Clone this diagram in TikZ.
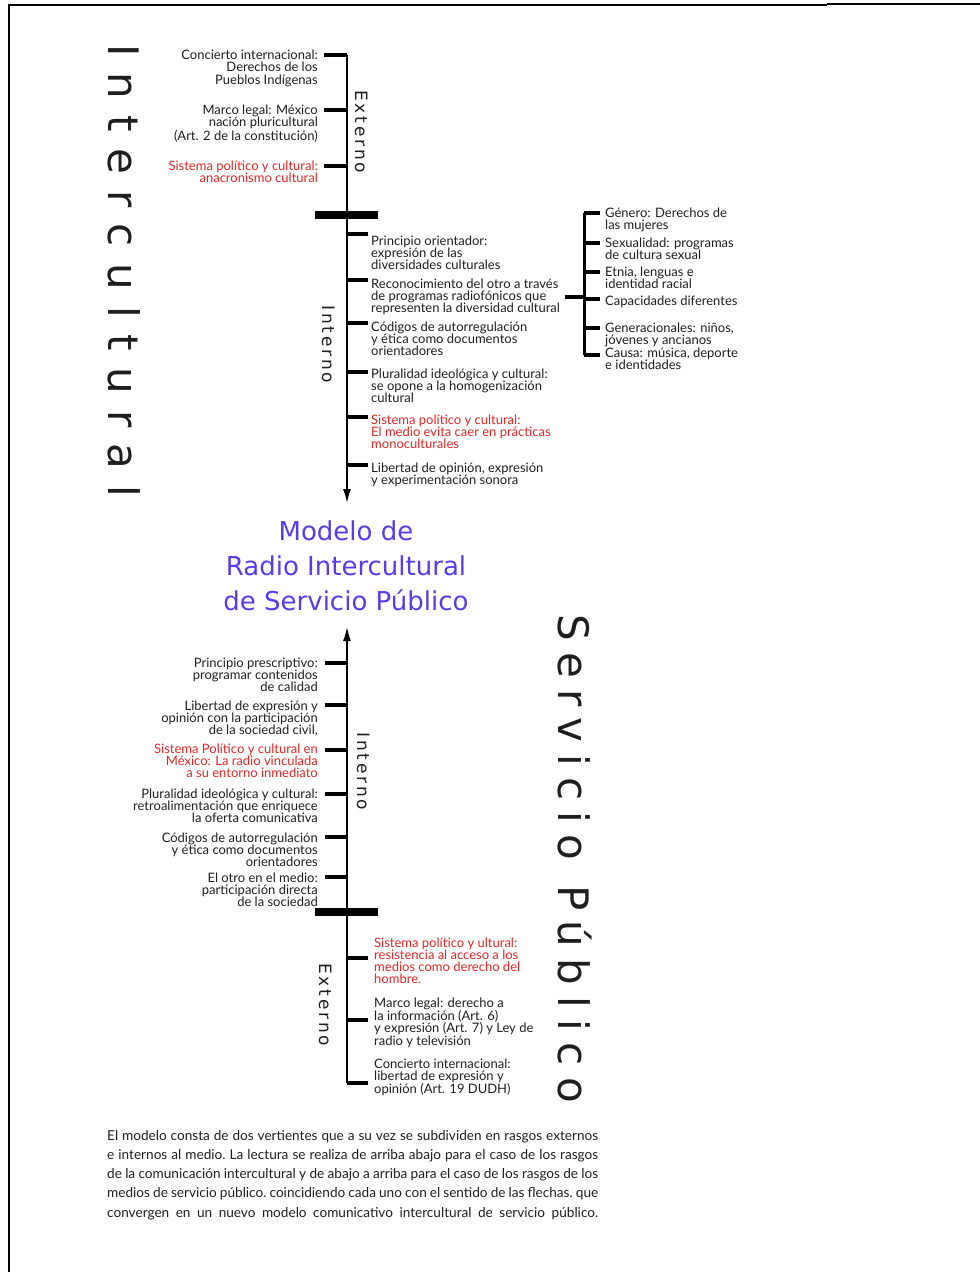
\documentclass[tikz,border=0pt]{standalone}
\usepackage{fontspec}
\setmainfont{Lato}
\newfontfamily\titlefont{DejaVu Sans}
\newfontfamily\intfont[LetterSpace=39]{DejaVu Sans}
\newfontfamily\servfont[LetterSpace=27]{DejaVu Sans}
\newfontfamily\sidefont[LetterSpace=17]{DejaVu Sans}
\usetikzlibrary{arrows.meta, positioning}
\definecolor{titleblue}{RGB}{88,60,235}
\definecolor{itemred}{RGB}{228,38,38}
\definecolor{itemgray}{RGB}{30,30,30}

\begin{document}
\begin{tikzpicture}[x=1pt,y=-1pt,>={Latex[length=14pt,width=8pt]}]
    \tikzstyle{item}=[inner sep=0pt, font=\fontsize{13}{12.2}\selectfont]
    \tikzstyle{left item}=[item, align=right, anchor=north east]
    \tikzstyle{right item}=[item, align=left, anchor=north west]
    \tikzstyle{tick}=[line width=3.5pt]
    \tikzstyle{axis}=[line width=1.6pt]
    \tikzstyle{bar}=[line width=8pt]
    \tikzstyle{side}=[rotate=-90, inner sep=0pt, anchor=base west, text=itemgray, font=\sidefont\fontsize{17}{17}\selectfont]
    \tikzstyle{big}=[rotate=-90, inner sep=0pt, anchor=base west, text=itemgray]

    \useasboundingbox (0,0) rectangle (980,1272);

    % Page frame
    \draw[line width=1.2pt] (9,1272) -- (9,5) -- (827,5);
    \draw[line width=2.5pt] (827,4) -- (980,4);

    % Big side titles
    \node[big, font=\intfont\fontsize{42}{42}\selectfont] (inter) at (108,44) {Intercultural};
    \node[big, font=\servfont\fontsize{42}{42}\selectfont] (serv) at (558,614) {Servicio Público};

    % Upper axis: read from top to bottom
    \coordinate (U-top) at (347,55);
    \coordinate (U-end) at (347,503);
    \coordinate (U-bar) at (347,215);
    \draw[axis,->] (U-top) -- (U-end);
    \draw[bar] ([xshift=-32pt]U-bar) -- ([xshift=31pt]U-bar);
    \node[side] (ext-u) at (355,90) {Externo};
    \node[side] (int-u) at (322,305) {Interno};

    % External features (upper axis)
    \foreach \name/\y/\col/\txt in {
        1/55/itemgray/{Concierto internacional:\\Derechos de los\\Pueblos Indígenas},
        2/110/itemgray/{Marco legal: México\\nación pluricultural\\(Art. 2 de la constitución)},
        3/166/itemred/{Sistema político y cultural:\\anacronismo cultural}} {
        \coordinate (UE-\name) at (347,\y);
        \draw[tick] (UE-\name) -- ++(-23,0);
        \node[left item, text=\col] (UEt-\name) at (318,\y-5) {\txt};
    }

    % Internal features (upper axis)
    \foreach \name/\y/\ty/\col/\txt in {
        1/234/240/itemgray/{Principio orientador:\\expresión de las\\diversidades culturales},
        2/280/283/itemgray/{Reconocimiento del otro a través\\de programas radiofónicos que\\representen la diversidad cultural},
        3/323/326/itemgray/{Códigos de autorregulación\\y ética como documentos\\orientadores},
        4/372/373/itemgray/{Pluralidad ideológica y cultural:\\se opone a la homogenización\\cultural},
        5/417/419/itemred/{Sistema político y cultural:\\El medio evita caer en prácticas\\monoculturales},
        6/465/467/itemgray/{Libertad de opinión, expresión\\y experimentación sonora}} {
        \coordinate (UI-\name) at (347,\y);
        \draw[tick] (UI-\name) -- ++(21,0);
        \node[right item, text=\col] (UIt-\name) at (371,\ty-4.5) {\txt};
    }

    % Bracket of the diversities
    \coordinate (brk-top) at (584,213);
    \coordinate (brk-bot) at (584,355);
    \coordinate (brk) at (584,296);
    \draw[tick] ([xshift=5pt]UIt-2.east) -- (UIt-2.east -| brk);
    \draw[line width=3pt] (brk-top) -- (brk-bot);
    \foreach \name/\y/\ty/\txt in {
        1/213/212/{Género: Derechos de\\las mujeres},
        2/243/242/{Sexualidad: programas\\de cultura sexual},
        3/272/271/{Etnia, lenguas e\\identidad racial},
        4/299/300/{Capacidades diferentes},
        5/328/327/{Generacionales: niños,\\jóvenes y ancianos},
        6/355/352/{Causa: música, deporte\\e identidades}} {
        \coordinate (D-\name) at (584,\y);
        \draw[tick] (D-\name) -- ++(16,0);
        \node[right item, text=itemgray] (Dt-\name) at (605,\ty-4.5) {\txt};
    }

    % Model in the middle
    \node[align=center, text=titleblue, font=\titlefont\fontsize{26}{35}\selectfont] (model) at (346,566)
        {Modelo de\\Radio Intercultural\\de Servicio Público};

    % Lower axis: read from bottom to top
    \coordinate (L-bot) at (347,1083);
    \coordinate (L-end) at (347,627);
    \coordinate (L-bar) at (347,912);
    \draw[axis,->] (L-bot) -- (L-end);
    \draw[bar] ([xshift=-32pt]L-bar) -- ([xshift=31pt]L-bar);
    \node[side] (int-l) at (357,732) {Interno};
    \node[side] (ext-l) at (319,963) {Externo};

    % Internal features (lower axis)
    \foreach \name/\y/\ty/\col/\txt in {
        1/663/662/itemgray/{Principio prescriptivo:\\programar contenidos\\de calidad},
        2/705/705/itemgray/{Libertad de expresión y\\opinión con la participación\\de la sociedad civil,},
        3/750/748/itemred/{Sistema Político y cultural en\\México: La radio vinculada\\a su entorno inmediato},
        4/794/793/itemgray/{Pluralidad ideológica y cultural:\\retroalimentación que enriquece\\la oferta comunicativa},
        5/837/837/itemgray/{Códigos de autorregulación\\y ética como documentos\\orientadores},
        6/877/877/itemgray/{El otro en el medio:\\participación directa\\de la sociedad}} {
        \coordinate (LI-\name) at (347,\y);
        \draw[tick] (LI-\name) -- ++(-22,0);
        \node[left item, text=\col] (LIt-\name) at (318,\ty-4.5) {\txt};
    }

    % External features (lower axis)
    \foreach \name/\y/\ty/\col/\txt in {
        1/958/942/itemred/{Sistema político y ultural:\\resistencia al acceso a los\\medios como derecho del\\hombre.},
        2/1020/1002/itemgray/{Marco legal: derecho a\\la información (Art. 6)\\y expresión (Art. 7) y Ley de\\radio y televisión},
        3/1083/1063/itemgray/{Concierto internacional:\\libertad de expresión y\\opinión (Art. 19 DUDH)}} {
        \coordinate (LE-\name) at (347,\y);
        \draw[tick] (LE-\name) -- ++(21,0);
        \node[right item, text=\col] (LEt-\name) at (374,\ty-4.5) {\txt};
    }

    % Note under the figure
    \node[inner sep=0pt, anchor=north west, text width=491pt, align=justify, text=itemgray,
          font=\fontsize{13.6}{19.2}\selectfont\frenchspacing] (note) at (107,1130)
        {\parfillskip=0pt El modelo consta de dos vertientes que a su vez se subdividen en rasgos externos\linebreak
         e internos al medio. La lectura se realiza de arriba abajo para el caso de los rasgos\linebreak
         de la comunicación intercultural y de abajo a arriba para el caso de los rasgos de los\linebreak
         medios de servicio público. coincidiendo cada uno con el sentido de las flechas. que\linebreak
         convergen en un nuevo modelo comunicativo intercultural de servicio público.\par};
\end{tikzpicture}
\end{document}
